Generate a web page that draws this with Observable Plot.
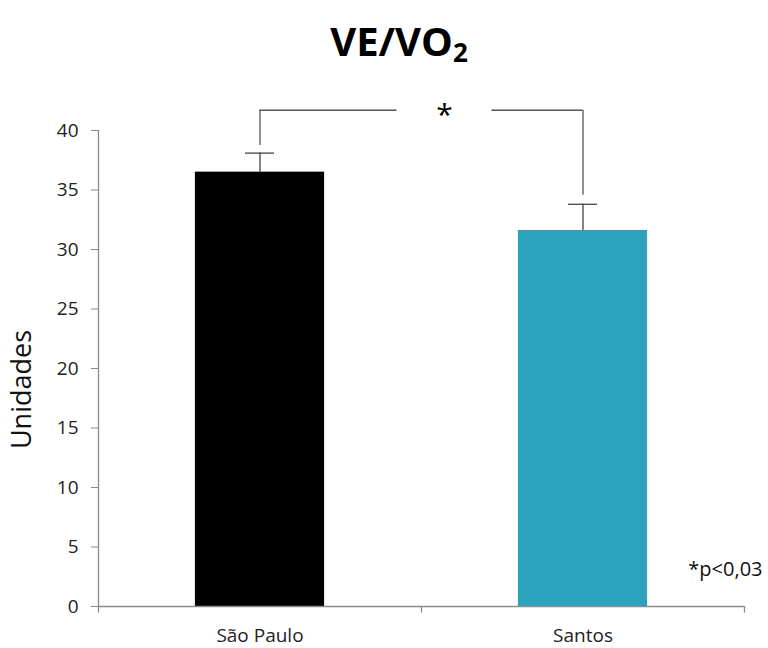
<!DOCTYPE html>
<html>
<head>
<meta charset="utf-8">
<script src="https://cdn.jsdelivr.net/npm/d3@7"></script>
<script src="https://cdn.jsdelivr.net/npm/@observablehq/plot@0.6"></script>
<style>
  body { margin: 0; background: #fff; font-family: "Open Sans", sans-serif; }
  #title { height: 80px; width: 768px; display: flex; align-items: center; justify-content: center;
           font-size: 40px; font-weight: bold; color: #000; padding-left: 30px; box-sizing: border-box; }
  #title span.sub { font-size: 26px; position: relative; top: 12px; }
</style>
</head>
<body>
<div id="title">VE/VO<span class="sub">2</span></div>
<div id="chart"></div>
<script>
const categories = ["São Paulo", "Santos"];
const values = [36.5, 31.6];
const errors = [1.6, 2.2];
const colors = ["#000000", "#2DA2BF"];
const yTicks = [0, 5, 10, 15, 20, 25, 30, 35, 40];
const yLabel = "Unidades";
const sigLabel = "*";
const pNote = "*p<0,03";
// significance bracket (data units)
const bracketY = 41.7;
const bracketEnds = [38.75, 34.55];
const starX = 0.571;
const gapHalf = 0.147;

const data = categories.map((c, i) => ({i, c, v: values[i], e: errors[i], color: colors[i]}));

const W = 768, H = 568;
const ml = 98, mr = 24, mt = 50, mb = 42;
const barHalf = 0.2;

const plot = Plot.plot({
  width: W, height: H,
  marginLeft: ml, marginRight: mr, marginTop: mt, marginBottom: mb,
  style: {fontFamily: "Open Sans, sans-serif", background: "#fff"},
  x: {type: "linear", domain: [-0.5, 1.5], axis: null},
  y: {domain: [0, 40], axis: null},
  marks: [
    Plot.rectY(data, {x1: d => d.i - barHalf, x2: d => d.i + barHalf, y1: 0, y2: "v", fill: "color"}),
    // error bars
    Plot.ruleX(data, {x: "i", y1: "v", y2: d => d.v + d.e, stroke: "#444", strokeWidth: 1.3}),
    Plot.ruleY(data, {y: d => d.v + d.e, x1: d => d.i - 0.045, x2: d => d.i + 0.045, stroke: "#444", strokeWidth: 1.3}),
    // bracket
    Plot.ruleX(data, {x: "i", y1: (d, k) => bracketEnds[k], y2: bracketY, stroke: "#555", strokeWidth: 1.3}),
    Plot.ruleY([bracketY], {x1: 0, x2: starX - gapHalf, stroke: "#555", strokeWidth: 1.3}),
    Plot.ruleY([bracketY], {x1: starX + gapHalf, x2: 1, stroke: "#555", strokeWidth: 1.3}),
    Plot.text([sigLabel], {x: starX, y: bracketY, fontSize: 30, dy: 5, fill: "#000"}),
    // y axis
    Plot.ruleX([-0.5], {y1: 0, y2: 40, stroke: "#8a8a8a", strokeWidth: 1.3}),
    Plot.axisY({ticks: yTicks, label: null, tickSize: 7, tickPadding: 13, fontSize: 19, stroke: "#8a8a8a", color: "#222", tickFormat: d => d}),
    // x axis
    Plot.ruleY([0], {stroke: "#8a8a8a", strokeWidth: 1.3}),
    Plot.ruleX([-0.5, 0.5, 1.5], {y1: 0, y2: -0.55, stroke: "#8a8a8a", strokeWidth: 1.3}),
    Plot.axisX({ticks: categories.map((c, i) => i), label: null, tickSize: 0, tickPadding: 22, fontSize: 19, color: "#222", tickFormat: i => categories[i]}),
    // labels
    Plot.text([yLabel], {frameAnchor: "left", textAnchor: "middle", dx: -76, dy: 21, rotate: -90, fontSize: 27, fill: "#111"}),
    Plot.text([pNote], {frameAnchor: "bottom-right", dx: 18, dy: -31, textAnchor: "end", fontSize: 20, fill: "#111"})
  ]
});
document.getElementById("chart").appendChild(plot);
</script>
</body>
</html>
